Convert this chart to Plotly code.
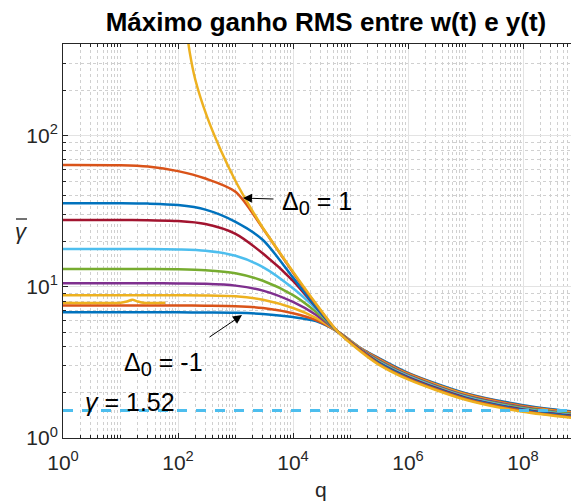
import plotly.graph_objects as go

# ---------------- data ----------------
q = [1, 10, 30, 100, 300, 1000, 3000, 1e4, 2.5e4, 6e4, 1.5e5, 3e5, 1e6, 1e7, 1e8, 7e8]
g_blue1   = [6.78, 6.78, 6.78, 6.78, 6.76, 6.73, 6.61, 6.31, 5.93, 5.05, 3.94, 3.40, 2.70, 1.98, 1.65, 1.50]
g_orange1 = [7.52, 7.52, 7.52, 7.52, 7.50, 7.45, 7.24, 6.68, 6.03, 5.05, 3.92, 3.37, 2.67, 1.96, 1.63, 1.486]
g_yellow1 = [8.79, 8.79, 8.79, 8.79, 8.77, 8.65, 8.22, 7.24, 6.24, 5.05, 3.90, 3.33, 2.64, 1.94, 1.61, 1.47]
g_purple  = [10.55, 10.55, 10.55, 10.52, 10.47, 10.18, 9.44, 7.94, 6.53, 5.05, 3.87, 3.29, 2.61, 1.91, 1.60, 1.45]
g_green   = [13.1, 13.1, 13.1, 13.06, 12.88, 12.3, 10.96, 8.81, 6.84, 5.05, 3.85, 3.25, 2.58, 1.89, 1.58, 1.44]
g_lblue   = [17.8, 17.8, 17.8, 17.66, 17.3, 16.03, 13.49, 9.77, 7.16, 5.05, 3.84, 3.22, 2.56, 1.875, 1.56, 1.42]
g_dred    = [27.7, 27.7, 27.5, 27.2, 26.0, 22.4, 16.6, 10.96, 7.33, 5.05, 3.82, 3.18, 2.53, 1.85, 1.545, 1.406]
g_blue2   = [35.7, 35.7, 35.5, 34.7, 32.4, 26.9, 20.4, 11.5, 7.38, 5.05, 3.79, 3.15, 2.50, 1.83, 1.53, 1.39]
g_orange2 = [64.0, 63.7, 62.4, 58.2, 52.0, 42.5, 24.3, 12.45, 7.67, 5.05, 3.78, 3.11, 2.47, 1.81, 1.51, 1.374]

q_d1 = [140, 160, 200, 316, 560, 1000, 1780, 3000, 1e4, 2.5e4, 6e4, 1.5e5, 3e5, 1e6, 1e7, 1e8, 7e8]
g_d1 = [513, 355, 234, 135, 79.4, 50.1, 33.9, 24.5, 12.6, 7.76, 5.05, 3.73, 3.08, 2.44, 1.79, 1.49, 1.36]

q_seg = [1, 10, 13, 16, 20, 25, 60]
g_seg = [7.85, 7.85, 8.0, 8.2, 8.0, 7.85, 7.85]

gamma_ref = 1.52
q_ref = [1, 7e8]

x_tickvals = [1, 1e2, 1e4, 1e6, 1e8]
x_ticktext = ["10<sup>0</sup>", "10<sup>2</sup>", "10<sup>4</sup>", "10<sup>6</sup>", "10<sup>8</sup>"]
y_tickvals = [1, 10, 100]
y_ticktext = ["10<sup>0</sup>", "10<sup>1</sup>", "10<sup>2</sup>"]

series = [
    (g_blue1, "#0072BD"), (g_orange1, "#D95319"), (g_yellow1, "#EDB120"),
    (g_purple, "#7E2F8E"), (g_green, "#77AC30"), (g_lblue, "#4DBEEE"),
    (g_dred, "#A2142F"), (g_blue2, "#0072BD"), (g_orange2, "#D95319"),
]

# ---------------- layout geometry (pixels) ----------------
W, H = 571, 502
L, R, T, B = 63, 0, 44, 64
PW, PH = W - L - R, H - T - B

def px(xp):
    return (xp - L) / PW

def py(yp):
    return (H - B - yp) / PH

fig = go.Figure()
for ys, col in series:
    fig.add_trace(go.Scatter(x=q, y=ys, mode="lines", line=dict(color=col, width=2.5, shape="spline", smoothing=0.8),
                             showlegend=False, hoverinfo="skip"))
fig.add_trace(go.Scatter(x=q_d1, y=g_d1, mode="lines", line=dict(color="#EDB120", width=2.5, shape="spline", smoothing=0.8),
                         showlegend=False, hoverinfo="skip"))
fig.add_trace(go.Scatter(x=q_seg, y=g_seg, mode="lines", line=dict(color="#EDB120", width=2.5, shape="spline", smoothing=0.8),
                         showlegend=False, hoverinfo="skip"))
fig.add_trace(go.Scatter(x=q_ref, y=[gamma_ref, gamma_ref], mode="lines",
                         line=dict(color="#4DBEEE", width=3, dash="10px,9px"),
                         showlegend=False, hoverinfo="skip"))

minor_x = []
for k in range(0, 9):
    for m in range(2, 10):
        minor_x.append(m * 10 ** k)
    if k % 2 == 1:
        minor_x.append(10 ** k)
minor_y = []
for k in range(0, 3):
    for m in range(2, 10):
        minor_y.append(m * 10 ** k)

axcol = "#262626"
font_fam = "Liberation Sans"

fig.update_xaxes(type="log", range=[0, PW / 57.5], tickmode="array", tickvals=x_tickvals, ticktext=x_ticktext,
                 ticks="inside", ticklen=5, tickcolor=axcol, tickwidth=1, ticklabelstandoff=6,
                 showline=True, linecolor=axcol, linewidth=1, mirror="ticks",
                 showgrid=True, gridcolor="#E3E3E3", gridwidth=1, zeroline=False,
                 tickfont=dict(family=font_fam, size=21, color=axcol),
                 minor=dict(tickmode="array", tickvals=minor_x, ticks="inside", ticklen=3, tickcolor=axcol,
                            showgrid=True, gridcolor="#D0D0D0", griddash="dot", gridwidth=1),
                 automargin=False)
fig.update_yaxes(type="log", range=[0, PH / 151.2], tickmode="array", tickvals=y_tickvals, ticktext=y_ticktext,
                 ticks="inside", ticklen=5, tickcolor=axcol, tickwidth=1,
                 showline=True, linecolor=axcol, linewidth=1, mirror=False,
                 showgrid=True, gridcolor="#E3E3E3", gridwidth=1, zeroline=False,
                 tickfont=dict(family=font_fam, size=21, color=axcol),
                 minor=dict(tickmode="array", tickvals=minor_y, ticks="inside", ticklen=3, tickcolor=axcol,
                            showgrid=True, gridcolor="#D0D0D0", griddash="dot", gridwidth=1),
                 automargin=False)

sub0 = "<sub><span style='font-size:20px'>0</span></sub>"
annos = [
    # arrows
    dict(x=3.13, y=1.587, xref="x", yref="y", text="", showarrow=True, ax=32, ay=1,
         arrowhead=2, arrowsize=1.8, arrowwidth=1, arrowcolor="black"),
    dict(x=3.113, y=0.813, xref="x", yref="y", text="", showarrow=True, ax=-34, ay=23,
         arrowhead=2, arrowsize=1.8, arrowwidth=1, arrowcolor="black"),
    # texts
    dict(x=px(280), y=py(203), xref="paper", yref="paper", text="Δ" + sub0 + " = 1", showarrow=False,
         xanchor="left", yanchor="middle", font=dict(family=font_fam, size=25, color="black")),
    dict(x=px(122), y=py(364), xref="paper", yref="paper", text="Δ" + sub0 + " = -1", showarrow=False,
         xanchor="left", yanchor="middle", font=dict(family=font_fam, size=25, color="black")),
    dict(x=px(83), y=py(402), xref="paper", yref="paper", text="<i>γ</i> = 1.52", showarrow=False,
         xanchor="left", yanchor="middle", font=dict(family=font_fam, size=25, color="black")),
    # axis labels
    dict(x=px(321), y=py(489), xref="paper", yref="paper", text="q", showarrow=False,
         xanchor="center", yanchor="middle", font=dict(family=font_fam, size=21, color=axcol)),
    dict(x=px(21), y=py(231), xref="paper", yref="paper", text="<i>γ</i>", showarrow=False,
         xanchor="center", yanchor="middle", font=dict(family=font_fam, size=22, color=axcol)),
]

shapes = [
    dict(type="line", xref="paper", yref="paper", x0=px(16), x1=px(27), y0=py(219), y1=py(219),
         line=dict(color=axcol, width=1.3)),
]

fig.update_layout(
    width=W, height=H,
    margin=dict(l=L, r=R, t=T, b=B, autoexpand=False),
    paper_bgcolor="white", plot_bgcolor="white",
    title=dict(text="<b>Máximo ganho RMS entre w(t) e y(t)</b>", x=326 / W, xref="container", xanchor="center",
               y=1 - 22 / H, yref="container", yanchor="middle",
               font=dict(family=font_fam, size=26, color="black")),
    annotations=annos,
    shapes=shapes,
    showlegend=False,
)

fig.write_html("out.html")
